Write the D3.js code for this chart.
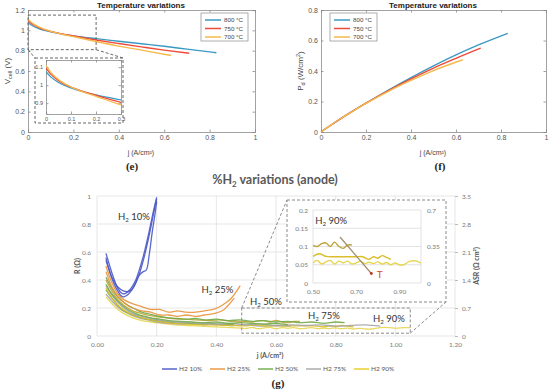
<!DOCTYPE html>
<html>
<head>
<meta charset="utf-8">
<script src="https://cdn.jsdelivr.net/npm/d3@7"></script>
<style>
  body { margin: 0; background: #fff; }
  svg { display: block; }
</style>
</head>
<body>
<svg id="chart" width="550" height="390"></svg>
<script>
// ---- data: temperature variations (panels e, f) ----
const tempLabels = ["800 °C", "750 °C", "700 °C"];
const tempColors = ["#3a9ac4", "#ee4a3a", "#f7b94a"];

const j800 = [0, 0.02, 0.05, 0.1, 0.15, 0.2, 0.3, 0.4, 0.5, 0.6, 0.7, 0.83];
const v800 = [1.075, 1.045, 1.015, 0.985, 0.963, 0.946, 0.918, 0.893, 0.868, 0.843, 0.815, 0.78];
const p800 = [0, 0.021, 0.051, 0.099, 0.145, 0.189, 0.275, 0.357, 0.434, 0.506, 0.571, 0.647];

const j750 = [0, 0.02, 0.05, 0.1, 0.15, 0.2, 0.3, 0.4, 0.5, 0.6, 0.71];
const v750 = [1.095, 1.06, 1.025, 0.99, 0.965, 0.944, 0.905, 0.87, 0.837, 0.805, 0.774];
const p750 = [0, 0.021, 0.051, 0.099, 0.145, 0.189, 0.272, 0.348, 0.419, 0.483, 0.55];

const j700 = [0, 0.02, 0.05, 0.1, 0.15, 0.2, 0.3, 0.4, 0.5, 0.63];
const v700 = [1.11, 1.07, 1.032, 0.99, 0.962, 0.938, 0.89, 0.845, 0.805, 0.752];
const p700 = [0, 0.021, 0.052, 0.099, 0.144, 0.188, 0.267, 0.338, 0.403, 0.474];

const eTicksX = [0, 0.2, 0.4, 0.6, 0.8, 1];
const eTicksY = [0, 0.2, 0.4, 0.6, 0.8, 1, 1.2];
const fTicksY = [0, 0.2, 0.4, 0.6, 0.8];

// ---- data: %H2 variations (panel g), [j, R] ----
const h2Labels = ["H2 10%", "H2 25%", "H2 50%", "H2 75%", "H2 90%"];
const h2Colors = ["#4a58c6", "#e8923a", "#6faa45", "#a5a5a5", "#e6cc22"];

const h10a = [[0.03,0.59],[0.04,0.52],[0.05,0.45],[0.06,0.39],[0.07,0.34],[0.08,0.31],[0.09,0.30],[0.10,0.31],[0.11,0.33],[0.12,0.36],[0.13,0.40],[0.14,0.46],[0.15,0.53],[0.16,0.61],[0.17,0.70],[0.18,0.80],[0.19,0.90],[0.20,0.99]];
const h10b = [[0.03,0.56],[0.04,0.48],[0.05,0.41],[0.06,0.36],[0.07,0.32],[0.08,0.29],[0.09,0.28],[0.10,0.29],[0.11,0.31],[0.12,0.34],[0.13,0.38],[0.14,0.43],[0.15,0.50],[0.16,0.58],[0.17,0.67],[0.18,0.77],[0.19,0.88],[0.20,0.98]];
const h10c = [[0.03,0.54],[0.05,0.42],[0.07,0.35],[0.09,0.32],[0.11,0.32],[0.12,0.34],[0.13,0.38],[0.14,0.43],[0.155,0.46],[0.165,0.47],[0.175,0.58],[0.185,0.74],[0.195,0.88],[0.20,0.96]];

const h25a = [[0.03,0.50],[0.05,0.38],[0.07,0.30],[0.09,0.26],[0.12,0.23],[0.15,0.21],[0.18,0.19],[0.21,0.19],[0.24,0.17],[0.27,0.18],[0.30,0.17],[0.33,0.17],[0.36,0.18],[0.39,0.19],[0.42,0.22],[0.45,0.27],[0.48,0.36]];
const h25b = [[0.03,0.46],[0.05,0.35],[0.07,0.28],[0.09,0.24],[0.12,0.20],[0.15,0.18],[0.18,0.17],[0.21,0.15],[0.24,0.15],[0.27,0.14],[0.30,0.15],[0.33,0.14],[0.36,0.15],[0.39,0.16],[0.42,0.18],[0.44,0.22],[0.46,0.27]];

const h50a = [[0.03,0.42],[0.05,0.34],[0.07,0.28],[0.09,0.24],[0.11,0.21],[0.13,0.19],[0.15,0.17],[0.18,0.155],[0.21,0.14],[0.24,0.13],[0.27,0.125],[0.30,0.12],[0.33,0.125],[0.36,0.115],[0.40,0.12],[0.44,0.11],[0.48,0.115],[0.52,0.105],[0.56,0.11],[0.60,0.10],[0.64,0.105],[0.68,0.095],[0.72,0.10],[0.76,0.09],[0.80,0.10],[0.83,0.095]];
const h50b = [[0.03,0.37],[0.05,0.30],[0.07,0.25],[0.09,0.21],[0.11,0.18],[0.13,0.16],[0.15,0.145],[0.18,0.13],[0.21,0.12],[0.24,0.11],[0.28,0.105],[0.32,0.10],[0.36,0.095],[0.40,0.10],[0.44,0.09],[0.48,0.095],[0.52,0.09],[0.56,0.085],[0.60,0.09],[0.64,0.08]];
const h50c = [[0.03,0.33],[0.05,0.27],[0.07,0.22],[0.09,0.18],[0.12,0.15],[0.15,0.13],[0.18,0.115],[0.22,0.105],[0.26,0.095],[0.30,0.09],[0.34,0.085],[0.38,0.09],[0.42,0.08],[0.46,0.085]];

const h75a = [[0.03,0.36],[0.05,0.29],[0.07,0.24],[0.09,0.20],[0.12,0.16],[0.15,0.14],[0.18,0.125],[0.22,0.11],[0.26,0.10],[0.30,0.095],[0.35,0.09],[0.40,0.085],[0.45,0.09],[0.50,0.08],[0.55,0.085],[0.60,0.075],[0.65,0.08],[0.70,0.075],[0.75,0.08],[0.80,0.07],[0.85,0.075],[0.90,0.08],[0.95,0.07]];
const h75b = [[0.03,0.30],[0.05,0.25],[0.08,0.19],[0.11,0.155],[0.14,0.13],[0.17,0.115],[0.20,0.10],[0.24,0.09],[0.28,0.085],[0.32,0.09],[0.36,0.08],[0.40,0.085],[0.45,0.075],[0.50,0.08],[0.55,0.07],[0.60,0.075],[0.65,0.07]];

const h90a = [[0.03,0.40],[0.05,0.32],[0.07,0.26],[0.09,0.22],[0.12,0.18],[0.15,0.16],[0.18,0.145],[0.21,0.135],[0.25,0.125],[0.29,0.12],[0.33,0.115],[0.37,0.11],[0.41,0.115],[0.45,0.105],[0.50,0.103],[0.52,0.10],[0.54,0.108],[0.56,0.11],[0.58,0.10],[0.60,0.112],[0.62,0.10],[0.64,0.095],[0.66,0.104],[0.68,0.104]];
const h90b = [[0.03,0.34],[0.05,0.27],[0.07,0.22],[0.09,0.185],[0.12,0.15],[0.15,0.13],[0.18,0.115],[0.22,0.10],[0.26,0.09],[0.30,0.085],[0.35,0.08],[0.40,0.078],[0.45,0.075],[0.50,0.073],[0.53,0.08],[0.56,0.073],[0.60,0.072],[0.65,0.072],[0.70,0.072],[0.73,0.072],[0.76,0.065],[0.78,0.072],[0.80,0.068],[0.82,0.075],[0.84,0.07],[0.86,0.065]];
const h90c = [[0.03,0.28],[0.05,0.23],[0.07,0.19],[0.09,0.16],[0.12,0.13],[0.15,0.11],[0.18,0.10],[0.22,0.09],[0.26,0.08],[0.30,0.075],[0.35,0.07],[0.40,0.065],[0.45,0.06],[0.50,0.055],[0.52,0.062],[0.54,0.052],[0.56,0.058],[0.58,0.062],[0.60,0.052],[0.62,0.06],[0.64,0.055],[0.66,0.06],[0.68,0.052],[0.70,0.055],[0.72,0.06],[0.74,0.053],[0.76,0.057],[0.78,0.053],[0.80,0.058],[0.82,0.052],[0.84,0.056],[0.86,0.05],[0.88,0.055],[0.90,0.05],[0.92,0.05],[0.95,0.06],[0.98,0.06],[1.00,0.055],[1.03,0.06],[1.05,0.06]];
const h90Colors = ["#bfa43a", "#d9bd2a", "#e5d550"];

const gTicksX = [0, 0.2, 0.4, 0.6, 0.8, 1.0, 1.2];
const gTicksY = [0, 0.2, 0.4, 0.6, 0.8, 1];
const gTicksAsr = [0, 0.7, 1.4, 2.1, 2.8, 3.5];
const insetTicksX = [0.5, 0.7, 0.9];
const insetTicksY = [0, 0.05, 0.1, 0.15, 0.2];
const insetTicksAsr = [0, 0.35, 0.7];

// -----------------------------------------------------------
const svg = d3.select("#chart");
const matFont = "'Liberation Sans', Arial, sans-serif";
const xlFont = "Lato, 'Open Sans', sans-serif";
const num = d3.format("~g");

function zipPts(js, vs) { return js.map((d, i) => [d, vs[i]]); }

// matlab style box axes
function matAxes(x, y, xt, yt, fs) {
  const g = svg.append("g");
  const [x0, x1] = x.range(), [y0, y1] = y.range();
  g.append("g").attr("transform", `translate(0,${y0})`)
    .call(d3.axisBottom(x).tickValues(xt).tickFormat(num).tickSize(-2.5).tickPadding(3));
  g.append("g").attr("transform", `translate(${x0},0)`)
    .call(d3.axisLeft(y).tickValues(yt).tickFormat(num).tickSize(-2.5).tickPadding(3));
  g.append("g").attr("transform", `translate(0,${y1})`)
    .call(d3.axisTop(x).tickValues(xt).tickFormat("").tickSize(-2.5));
  g.append("g").attr("transform", `translate(${x1},0)`)
    .call(d3.axisRight(y).tickValues(yt).tickFormat("").tickSize(-2.5));
  g.selectAll(".domain, .tick line").attr("stroke", "#8a8a8a").attr("stroke-width", 0.8);
  g.selectAll("text").attr("font-family", matFont).attr("font-size", fs).attr("fill", "#555");
  return g;
}

function tempLegend(lx, ly) {
  const g = svg.append("g").attr("transform", `translate(${lx},${ly})`);
  g.append("rect").attr("width", 47).attr("height", 28)
    .attr("fill", "#fff").attr("stroke", "#9a9a9a").attr("stroke-width", 0.8);
  tempLabels.forEach((t, i) => {
    const yy = 7 + i * 8.5;
    g.append("line").attr("x1", 4).attr("x2", 20).attr("y1", yy).attr("y2", yy)
      .attr("stroke", tempColors[i]).attr("stroke-width", 1.5);
    g.append("text").attr("x", 23).attr("y", yy + 2.2).text(t)
      .attr("font-family", matFont).attr("font-size", 6.2).attr("fill", "#444");
  });
}

function title(x, y, t) {
  svg.append("text").attr("x", x).attr("y", y).attr("text-anchor", "middle")
    .attr("font-family", matFont).attr("font-weight", "bold").attr("font-size", 8)
    .attr("fill", "#222").text(t);
}

// ---------------- panel (e) ----------------
const xe = d3.scaleLinear([0, 1], [28, 255]);
const ye = d3.scaleLinear([0, 1.2], [132, 10]);
matAxes(xe, ye, eTicksX, eTicksY, 7);
title(141, 8, "Temperature variations");

const vSeries = [zipPts(j800, v800), zipPts(j750, v750), zipPts(j700, v700)];
const lineE = d3.line().x(d => xe(d[0])).y(d => ye(d[1])).curve(d3.curveMonotoneX);
svg.append("g").selectAll("path").data(vSeries).join("path")
  .attr("d", lineE).attr("fill", "none")
  .attr("stroke", (d, i) => tempColors[i]).attr("stroke-width", 1.4);

tempLegend(201, 13);

// zoom rectangle + connectors
const dashE = "3,2";
svg.append("rect").attr("x", xe(0)).attr("y", ye(1.15))
  .attr("width", xe(0.3) - xe(0)).attr("height", ye(0.81) - ye(1.15))
  .attr("fill", "none").attr("stroke", "#666").attr("stroke-dasharray", dashE);

const inE = { x0: 35, y0: 58, x1: 123, y1: 123 };
svg.append("line").attr("x1", xe(0)).attr("y1", ye(0.81)).attr("x2", inE.x0).attr("y2", inE.y0)
  .attr("stroke", "#666").attr("stroke-dasharray", dashE);
svg.append("line").attr("x1", xe(0.3)).attr("y1", ye(0.81)).attr("x2", inE.x1).attr("y2", inE.y0)
  .attr("stroke", "#666").attr("stroke-dasharray", dashE);
svg.append("rect").attr("x", inE.x0).attr("y", inE.y0)
  .attr("width", inE.x1 - inE.x0).attr("height", inE.y1 - inE.y0)
  .attr("fill", "#fff").attr("stroke", "#666").attr("stroke-dasharray", dashE);

const xie = d3.scaleLinear([0, 0.3], [46, 121]);
const yie = d3.scaleLinear([0.84, 1.14], [114, 60]);
matAxes(xie, yie, [0, 0.1, 0.2, 0.3], [0.9, 1, 1.1], 5.5);
svg.append("clipPath").attr("id", "clipE").append("rect")
  .attr("x", 46).attr("y", 60).attr("width", 75).attr("height", 54);
const lineIE = d3.line().x(d => xie(d[0])).y(d => yie(d[1])).curve(d3.curveMonotoneX);
svg.append("g").attr("clip-path", "url(#clipE)").selectAll("path")
  .data(vSeries.map(s => s.filter(d => d[0] <= 0.4))).join("path")
  .attr("d", lineIE).attr("fill", "none")
  .attr("stroke", (d, i) => tempColors[i]).attr("stroke-width", 1.3);

// axis labels (e)
const ylabE = svg.append("text").attr("transform", "translate(10,71) rotate(-90)")
  .attr("text-anchor", "middle").attr("font-family", matFont).attr("font-size", 8).attr("fill", "#444");
ylabE.append("tspan").text("V");
ylabE.append("tspan").attr("font-size", 5.5).attr("dy", 2).text("cell");
ylabE.append("tspan").attr("dy", -2).text(" (V)");
svg.append("text").attr("x", 141).attr("y", 155).attr("text-anchor", "middle")
  .attr("font-family", matFont).attr("font-size", 7).attr("fill", "#444").text("j (A/cm²)");
svg.append("text").attr("x", 132).attr("y", 170).attr("text-anchor", "middle")
  .attr("font-family", "'Liberation Serif', serif").attr("font-weight", "bold")
  .attr("font-size", 11).attr("fill", "#222").text("(e)");

// ---------------- panel (f) ----------------
const xf = d3.scaleLinear([0, 1], [321, 546]);
const yf = d3.scaleLinear([0, 0.8], [132, 10]);
matAxes(xf, yf, eTicksX, fTicksY, 7);
title(433, 8, "Temperature variations");

const pSeries = [zipPts(j800, p800), zipPts(j750, p750), zipPts(j700, p700)];
const lineF = d3.line().x(d => xf(d[0])).y(d => yf(d[1])).curve(d3.curveMonotoneX);
svg.append("g").selectAll("path").data(pSeries).join("path")
  .attr("d", lineF).attr("fill", "none")
  .attr("stroke", (d, i) => tempColors[i]).attr("stroke-width", 1.4);

tempLegend(330, 13);

const ylabF = svg.append("text").attr("transform", "translate(303,71) rotate(-90)")
  .attr("text-anchor", "middle").attr("font-family", matFont).attr("font-size", 8).attr("fill", "#444");
ylabF.append("tspan").text("P");
ylabF.append("tspan").attr("font-size", 5.5).attr("dy", 2).text("d");
ylabF.append("tspan").attr("dy", -2).text(" (W/cm");
ylabF.append("tspan").attr("font-size", 5.5).attr("dy", -3).text("2");
ylabF.append("tspan").attr("dy", 3).text(")");
svg.append("text").attr("x", 433).attr("y", 155).attr("text-anchor", "middle")
  .attr("font-family", matFont).attr("font-size", 7).attr("fill", "#444").text("j (A/cm²)");
svg.append("text").attr("x", 440).attr("y", 170).attr("text-anchor", "middle")
  .attr("font-family", "'Liberation Serif', serif").attr("font-weight", "bold")
  .attr("font-size", 11).attr("fill", "#222").text("(f)");

// ---------------- panel (g) ----------------
const xg = d3.scaleLinear([0, 1.2], [97, 455]);
const yg = d3.scaleLinear([0, 1], [336, 196]);
const ya = d3.scaleLinear([0, 3.5], [336, 196]);

// title
const tg = svg.append("text").attr("x", 275).attr("y", 184).attr("text-anchor", "middle")
  .attr("font-family", xlFont).attr("font-weight", "bold").attr("font-size", 12.5).attr("fill", "#595959");
tg.append("tspan").text("%H");
tg.append("tspan").attr("font-size", 8).attr("dy", 3).text("2");
tg.append("tspan").attr("dy", -3).text(" variations (anode)");

// grid
const grid = svg.append("g").attr("stroke", "#dcdcdc").attr("stroke-width", 0.7);
grid.selectAll(".h").data(gTicksY).join("line")
  .attr("x1", xg(0)).attr("x2", xg(1.2)).attr("y1", d => yg(d)).attr("y2", d => yg(d));
grid.selectAll(".v").data(gTicksX).join("line")
  .attr("y1", yg(0)).attr("y2", yg(1)).attr("x1", d => xg(d)).attr("x2", d => xg(d));

// axes (labels only, excel style)
function xlAxis(gen, tr) {
  const a = svg.append("g").attr("transform", tr).call(gen);
  a.select(".domain").remove();
  a.selectAll("text").attr("font-family", xlFont).attr("font-size", 6.5).attr("fill", "#7a7a7a");
  return a;
}
xlAxis(d3.axisBottom(xg).tickValues(gTicksX).tickFormat(d3.format(".2f")).tickSize(0).tickPadding(6),
  `translate(0,${yg(0)})`);
xlAxis(d3.axisLeft(yg).tickValues(gTicksY).tickFormat(num).tickSize(0).tickPadding(6),
  `translate(${xg(0)},0)`);
const ra = xlAxis(d3.axisRight(ya).tickValues(gTicksAsr).tickFormat(num).tickSize(3).tickPadding(4),
  `translate(${xg(1.2)},0)`);
ra.selectAll(".tick line").attr("stroke", "#bbb");

// axis titles
svg.append("text").attr("transform", `translate(80,${yg(0.5)}) rotate(-90)`).attr("text-anchor", "middle")
  .attr("font-family", xlFont).attr("font-weight", "bold").attr("font-size", 7).attr("fill", "#555").text("R (Ω)");
svg.append("text").attr("transform", `translate(479,${yg(0.5)}) rotate(-90)`).attr("text-anchor", "middle")
  .attr("font-family", xlFont).attr("font-weight", "bold").attr("font-size", 7).attr("fill", "#555").text("ASR (Ω cm²)");
svg.append("text").attr("x", 270).attr("y", 358).attr("text-anchor", "middle")
  .attr("font-family", xlFont).attr("font-weight", "bold").attr("font-size", 7).attr("fill", "#555").text("j (A/cm²)");

// series
const gSeries = [
  { d: h90c, c: h90Colors[2] }, { d: h75b, c: h2Colors[3] }, { d: h50c, c: h2Colors[2] },
  { d: h90b, c: h90Colors[1] }, { d: h75a, c: h2Colors[3] }, { d: h50b, c: h2Colors[2] },
  { d: h90a, c: h90Colors[0] }, { d: h50a, c: h2Colors[2] },
  { d: h25b, c: h2Colors[1] }, { d: h25a, c: h2Colors[1] },
  { d: h10c, c: h2Colors[0] }, { d: h10b, c: h2Colors[0] }, { d: h10a, c: h2Colors[0] }
];
const lineG = d3.line().x(d => xg(d[0])).y(d => yg(d[1])).curve(d3.curveCatmullRom);
svg.append("g").selectAll("path").data(gSeries).join("path")
  .attr("d", s => lineG(s.d)).attr("fill", "none")
  .attr("stroke", s => s.c).attr("stroke-width", 1.3).attr("stroke-opacity", 0.9);

// series labels
function h2Label(x, y, pct, fs) {
  const t = svg.append("text").attr("x", x).attr("y", y)
    .attr("font-family", xlFont).attr("font-size", fs).attr("fill", "#333");
  t.append("tspan").text("H");
  t.append("tspan").attr("font-size", fs * 0.65).attr("dy", 2).text("2");
  t.append("tspan").attr("dy", -2).text(" " + pct);
}
h2Label(xg(0.07), yg(0.83), "10%", 9.5);
h2Label(xg(0.35), yg(0.31), "25%", 9.5);
h2Label(xg(0.513), yg(0.22), "50%", 9.5);
h2Label(xg(0.707), yg(0.12), "75%", 9.5);
h2Label(xg(0.925), yg(0.10), "90%", 9.5);

// zoom rect + connectors
const dashG = "3,2";
const zr = { x0: xg(0.485), x1: xg(1.05), y0: yg(0.2), y1: yg(0.02) };
svg.append("rect").attr("x", zr.x0).attr("y", zr.y0).attr("width", zr.x1 - zr.x0).attr("height", zr.y1 - zr.y0)
  .attr("fill", "none").attr("stroke", "#8a8a8a").attr("stroke-dasharray", dashG);
const inG = { x0: 287, y0: 200, x1: 446, y1: 302 };
svg.append("line").attr("x1", zr.x0).attr("y1", zr.y0).attr("x2", inG.x0).attr("y2", inG.y0)
  .attr("stroke", "#8a8a8a").attr("stroke-dasharray", dashG);
svg.append("line").attr("x1", zr.x1).attr("y1", zr.y1).attr("x2", inG.x1).attr("y2", inG.y1)
  .attr("stroke", "#8a8a8a").attr("stroke-dasharray", dashG);
svg.append("rect").attr("x", inG.x0).attr("y", inG.y0).attr("width", inG.x1 - inG.x0).attr("height", inG.y1 - inG.y0)
  .attr("fill", "#fff").attr("stroke", "#8a8a8a").attr("stroke-dasharray", dashG);

// inset (g)
const xig = d3.scaleLinear([0.5, 1.0], [313, 421]);
const yig = d3.scaleLinear([0, 0.2], [283, 210]);
const yiga = d3.scaleLinear([0, 0.7], [283, 210]);
const igrid = svg.append("g").attr("stroke", "#d6d6d6").attr("stroke-width", 0.7);
igrid.selectAll("line.h").data(insetTicksY).join("line")
  .attr("x1", xig(0.5)).attr("x2", xig(1.0)).attr("y1", d => yig(d)).attr("y2", d => yig(d));
igrid.selectAll("line.v").data([0.5, 1.0]).join("line")
  .attr("y1", yig(0)).attr("y2", yig(0.2)).attr("x1", d => xig(d)).attr("x2", d => xig(d));
xlAxis(d3.axisBottom(xig).tickValues(insetTicksX).tickFormat(d3.format(".2f")).tickSize(0).tickPadding(6),
  `translate(0,${yig(0)})`);
xlAxis(d3.axisLeft(yig).tickValues(insetTicksY).tickFormat(num).tickSize(0).tickPadding(5),
  `translate(${xig(0.5)},0)`);
xlAxis(d3.axisRight(yiga).tickValues(insetTicksAsr).tickFormat(num).tickSize(0).tickPadding(6),
  `translate(${xig(1.0)},0)`);

svg.append("clipPath").attr("id", "clipG").append("rect")
  .attr("x", xig(0.5)).attr("y", yig(0.2)).attr("width", xig(1.0) - xig(0.5)).attr("height", yig(0) - yig(0.2));
const lineIG = d3.line().x(d => xig(d[0])).y(d => yig(d[1])).curve(d3.curveCatmullRom);
svg.append("g").attr("clip-path", "url(#clipG)").selectAll("path")
  .data([h90c, h90b, h90a].map(s => s.filter(d => d[0] >= 0.5))).join("path")
  .attr("d", lineIG).attr("fill", "none")
  .attr("stroke", (d, i) => [h90Colors[2], h90Colors[1], h90Colors[0]][i]).attr("stroke-width", 1.4);

// temperature arrow
svg.append("line").attr("x1", xig(0.625)).attr("y1", yig(0.126)).attr("x2", xig(0.77)).attr("y2", yig(0.026))
  .attr("stroke", "#a08b6c").attr("stroke-width", 1.2);
svg.append("circle").attr("cx", xig(0.77)).attr("cy", yig(0.026)).attr("r", 1.4).attr("fill", "#c03020");
svg.append("text").attr("x", xig(0.795)).attr("y", yig(0.013)).attr("font-family", xlFont)
  .attr("font-size", 10).attr("fill", "#e04a2a").text("T");
h2Label(xig(0.51), yig(0.163), "90%", 9.5);

// legend
const lg = svg.append("g").attr("transform", "translate(162,369)");
h2Labels.forEach((t, i) => {
  const ox = i * 48;
  lg.append("line").attr("x1", ox).attr("x2", ox + 15).attr("stroke", h2Colors[i]).attr("stroke-width", 1.4);
  lg.append("text").attr("x", ox + 17).attr("y", 2.3).text(t)
    .attr("font-family", xlFont).attr("font-size", 6.5).attr("fill", "#555");
});

svg.append("text").attr("x", 278).attr("y", 387).attr("text-anchor", "middle")
  .attr("font-family", "'Liberation Serif', serif").attr("font-weight", "bold")
  .attr("font-size", 11).attr("fill", "#222").text("(g)");
</script>
</body>
</html>
